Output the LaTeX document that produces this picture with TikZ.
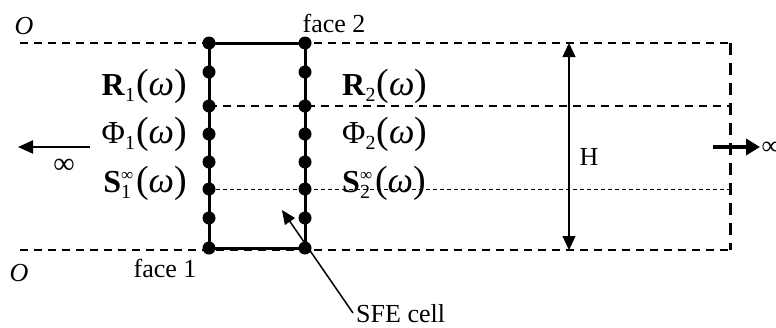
\documentclass[tikz,border=0pt]{standalone}
\usepackage{fontspec}
\setmainfont{Liberation Serif}
\usetikzlibrary{arrows.meta}

% quantity with subscript, e.g. R_1(omega)
\newcommand{\bigparen}[1]{{\fontsize{38}{38}\selectfont #1}}
\newcommand{\argom}{\bigparen{(}{\fontsize{36}{36}\selectfont\textit{ω}}\bigparen{)}}
\newcommand{\qsub}[2]{#1\raisebox{-6pt}{\fontsize{20}{20}\selectfont #2}\kern1pt\argom}
\newcommand{\qsupsub}[3]{#1\makebox[0pt][l]{\raisebox{12pt}{\fontsize{17}{17}\selectfont #2}}\raisebox{-6pt}{\fontsize{20}{20}\selectfont #3}\kern5pt\argom}

\tikzset{
  guide/.style={line width=1.3pt, dash pattern=on 8pt off 6pt},
  fineguide/.style={line width=1pt, dash pattern=on 4pt off 3pt},
  edgeguide/.style={line width=3pt, dash pattern=on 12pt off 8pt},
  wall/.style={line width=3pt},
  dof/.style={circle, fill=black, inner sep=0pt, minimum size=13pt},
  txt/.style={font=\fontsize{26}{28}\selectfont, inner sep=0pt},
  qty/.style={font=\fontsize{32}{34}\selectfont, inner sep=0pt},
  dim/.style={line width=1.3pt, {Triangle[length=14pt,width=13pt]}-{Triangle[length=14pt,width=13pt]}},
}

\begin{document}
\begin{tikzpicture}[x=1pt, y=-1pt]
\useasboundingbox (0,0) rectangle (776,327);

% guide lines across the strip
\coordinate (topL) at (20,43);
\coordinate (topR) at (730,43);
\coordinate (botL) at (20,250);
\coordinate (botR) at (730,250);
\coordinate (midR) at (730,106);
\coordinate (lowR) at (730,189);
\draw[guide] (topL) -- (topR);
\draw[guide] (botL) -- (botR);

% nodes on the two faces of the cell
\foreach \i/\y in {1/43,2/72,3/106,4/134,5/162,6/189,7/218,8/248}{
  \node[dof] (L\i) at (209,\y) {};
  \node[dof] (R\i) at (305,\y) {};
}

\draw[guide] (L3.center) -- (midR);
\draw[fineguide] (L6.center) -- (lowR);

% cell outline
\draw[wall] (L1.center) -- (L8.center);
\draw[wall] (R1.center) -- (R8.center);
\draw[wall] (L1.center) -- (R1.center);
\draw[wall] (L8.center) -- (R8.center);

% right end of the strip
\draw[edgeguide] (topR) -- (botR);

% height dimension
\coordinate (Ht) at (569,43);
\coordinate (Hb) at (569,250);
\draw[dim] (Ht) -- (Hb);
\node[txt] (H) at (589,157) {H};

% directions towards infinity
\coordinate (la) at (90,147);
\coordinate (lb) at (18,147);
\draw[line width=2pt, -{Triangle[length=15pt,width=13pt]}] (la) -- (lb);
\node[font=\fontsize{30}{30}\selectfont, inner sep=0pt] (linf) at (64,166) {∞};

\coordinate (ra) at (713,147);
\coordinate (rb) at (760,147);
\draw[line width=4pt, -{Triangle[length=14pt,width=16pt]}] (ra) -- (rb);
\node[font=\fontsize{26}{26}\selectfont, inner sep=0pt] (rinf) at (771,148) {∞};

% boundary labels
\node[font=\itshape\fontsize{26}{28}\selectfont, inner sep=0pt] (O1) at (24,26) {O};
\node[font=\itshape\fontsize{26}{28}\selectfont, inner sep=0pt] (O2) at (19,273) {O};
\node[txt, anchor=base] (f2) at (334,32) {face 2};
\node[txt, anchor=base] (f1) at (165,277) {face 1};

% face quantities
\node[qty, anchor=base east] (r1) at (187,95) {\qsub{\textbf{R}}{1}};
\node[qty, anchor=base east] (p1) at (187,143) {\qsub{Φ}{1}};
\node[qty, anchor=base east] (s1) at (187,192) {\qsupsub{\textbf{S}}{∞}{1}};
\node[qty, anchor=base west] (r2) at (342,95) {\qsub{\textbf{R}}{2}};
\node[qty, anchor=base west] (p2) at (342,143) {\qsub{Φ}{2}};
\node[qty, anchor=base west] (s2) at (342,192) {\qsupsub{\textbf{S}}{∞}{2}};

% cell label
\node[txt, anchor=base west] (sfe) at (356,322) {SFE cell};
\coordinate (sfetip) at (282,210);
\draw[line width=1.5pt, -{Triangle[length=14pt,width=12pt]}] (353,313) -- (sfetip);
\end{tikzpicture}
\end{document}
